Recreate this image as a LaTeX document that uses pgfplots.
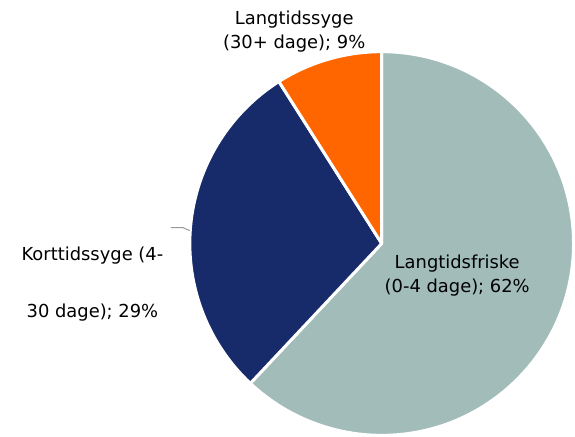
\documentclass[border=0pt]{standalone}
\usepackage{pgfplots}
\pgfplotsset{compat=1.18}
\usepackage{pgfplotstable}
\usepackage{fontspec}
\setmainfont{DejaVu Sans}
\definecolor{cTeal}{HTML}{A2BCBA}
\definecolor{cNavy}{HTML}{172A6A}
\definecolor{cOrange}{HTML}{FF6600}
\pgfplotstableread{
label pct
Langtidsfriske 62
Korttidssyge 29
Langtidssyge 9
}\piedata
\begin{document}
\begin{tikzpicture}
\begin{axis}[x=1pt,y=1pt,xmin=0,xmax=575,ymin=0,ymax=436,hide axis,clip=false,
  scale only axis]
\path (axis cs:0,0) rectangle (axis cs:575,436);
\pgfplotstablegetelem{0}{pct}\of\piedata \let\pA\pgfplotsretval
\pgfplotstablegetelem{1}{pct}\of\piedata \let\pB\pgfplotsretval
\pgfplotstablegetelem{2}{pct}\of\piedata \let\pC\pgfplotsretval
\pgfmathsetmacro{\aA}{90-3.6*\pA}
\pgfmathsetmacro{\aB}{\aA-3.6*\pB}
\pgfmathsetmacro{\aC}{\aB-3.6*\pC}
\fill[cTeal,draw=white,line width=3pt,line join=round] (axis cs:384,191) -- ++(90:193pt) arc[start angle=90,end angle=\aA,radius=193pt] -- cycle;
\fill[cNavy,draw=white,line width=3pt,line join=round] (axis cs:384,191) -- ++(\aA:193pt) arc[start angle=\aA,end angle=\aB,radius=193pt] -- cycle;
\fill[cOrange,draw=white,line width=3pt,line join=round] (axis cs:384,191) -- ++(\aB:193pt) arc[start angle=\aB,end angle=\aC,radius=193pt] -- cycle;
\draw[gray!80,line width=1pt] (axis cs:172,207) -- (axis cs:184,207) -- (axis cs:191,204);
\node[font=\fontsize{18}{24}\selectfont,align=center] at (axis cs:296,404) {Langtidssyge\\(30+ dage); 9\%};
\node[font=\fontsize{18}{24}\selectfont,align=center] at (axis cs:460,159) {Langtidsfriske\\(0-4 dage); 62\%};
\node[font=\fontsize{18}{57}\selectfont,align=center] at (axis cs:93,150) {Korttidssyge (4-\\30 dage); 29\%};
\end{axis}
\end{tikzpicture}
\end{document}
